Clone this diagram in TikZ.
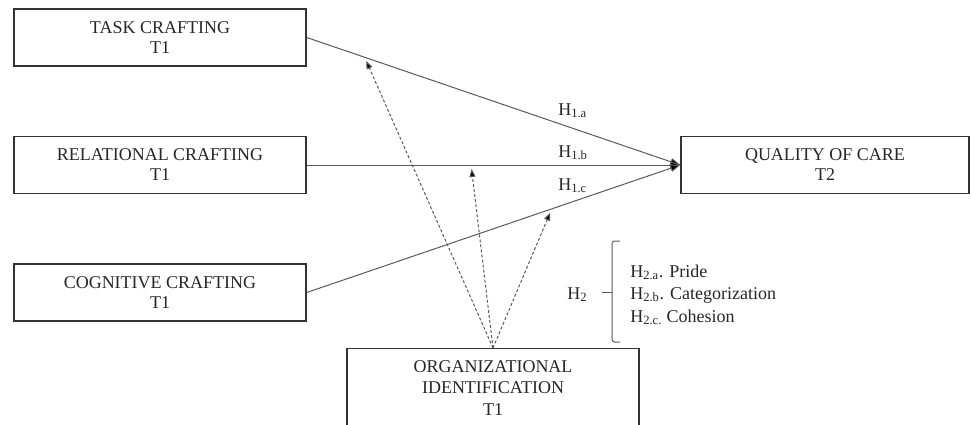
\documentclass[tikz,border=0pt]{standalone}
\usepackage{fontspec}
\setmainfont{Liberation Serif}
\usetikzlibrary{arrows.meta}

\begin{document}
\begin{tikzpicture}[x=0.75pt, y=-0.75pt,
    box/.style={draw=black!80, line width=1.1pt, minimum width=219pt, minimum height=42.75pt,
        inner sep=0pt, align=center, text=black!85, font=\fontsize{13.5}{15}\selectfont},
    effect/.style={draw=black!65, line width=0.75pt, -{Triangle[length=7.5pt,width=5.5pt,fill=black]}},
    moderate/.style={draw=black!65, line width=0.75pt, dash pattern=on 2.2pt off 1.6pt,
        -{Triangle[length=6pt,width=4.5pt,fill=black]}, shorten >=3pt},
    lbl/.style={inner sep=0pt, text=black!85, font=\fontsize{13.5}{15}\selectfont}]
    \clip (0,0) rectangle (972,425);

    % Boxes
    \node[box] (task) at (160,37.5) {TASK CRAFTING\\T1};
    \node[box] (rel) at (160,165) {RELATIONAL CRAFTING\\T1};
    \node[box] (cog) at (160,292.5) {COGNITIVE CRAFTING\\T1};
    \node[box, minimum width=216pt] (qual) at (825,165) {QUALITY OF CARE\\T2};
    \node[box, anchor=north, inner ysep=9pt, font=\fontsize{13.5}{16}\selectfont] (org) at (493,348)
        {ORGANIZATIONAL\\IDENTIFICATION\\T1};

    % Direct effects
    \draw[effect] (task.east) -- (qual.west);
    \draw[effect] (rel.east) -- (qual.west);
    \draw[effect] (cog.east) -- (qual.west);

    \foreach \k/\y in {a/115, b/157, c/190}
        \node[lbl, anchor=base west] (h1\k) at (558,\y) {H\textsubscript{1.\k}};

    % Moderation
    \path (task.east) -- (qual.west) coordinate[pos=0.155] (ta);
    \path (rel.east) -- (qual.west) coordinate[pos=0.44] (ra);
    \path (cog.east) -- (qual.west) coordinate[pos=0.656] (ca);
    \foreach \c in {ta, ra, ca}
        \draw[moderate] (org.north) -- (\c);

    % Hypotheses H2
    \node[lbl, anchor=base west] (h2) at (567,299) {H\textsubscript{2}};
    \draw[black!65, line width=0.75pt, rounded corners=2pt] (620,241) -- (612,241) -- (612,342) -- (620,342);
    \draw[black!65, line width=0.75pt] (602,292) -- (612,292);
    \foreach \k/\y/\txt in {a/277/{H\textsubscript{2.a}. Pride},
                           b/299/{H\textsubscript{2.b}. Categorization},
                           c/322/{H\textsubscript{2.c.} Cohesion}}
        \node[lbl, anchor=base west] (h2\k) at (630,\y) {\txt};
\end{tikzpicture}
\end{document}
